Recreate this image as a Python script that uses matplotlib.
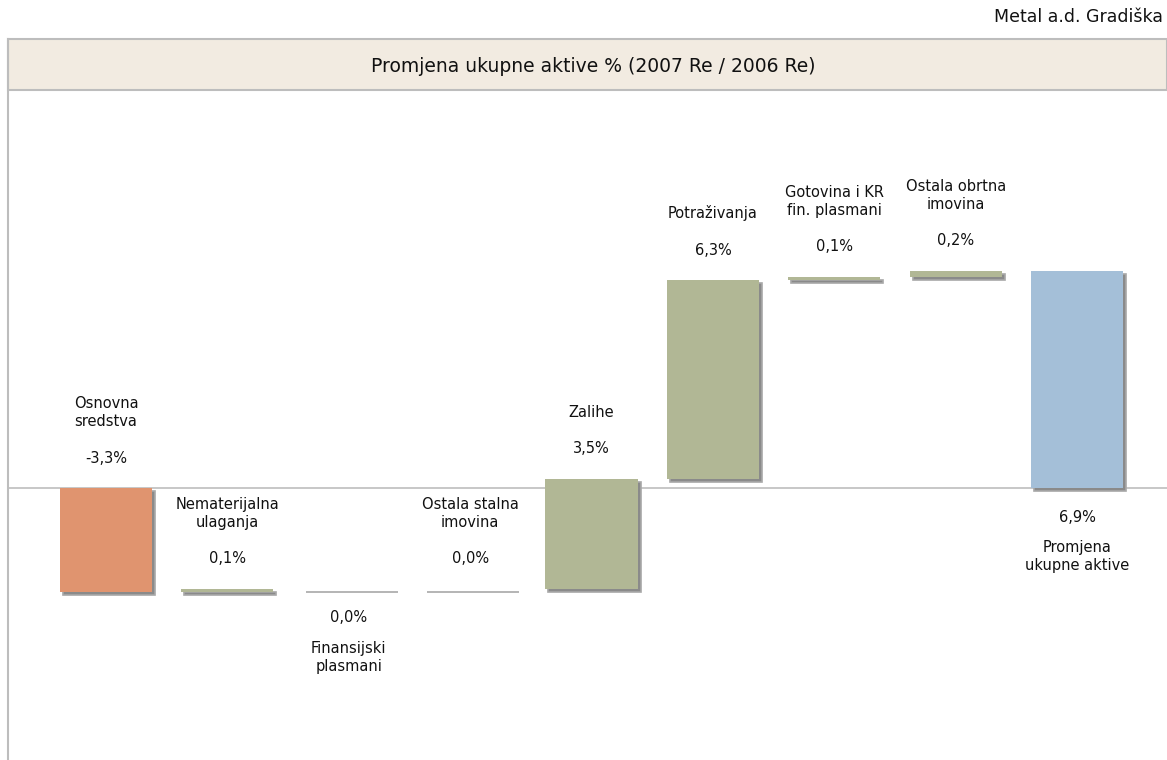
import numpy as np
import matplotlib
matplotlib.use('Agg')
import matplotlib.pyplot as plt
from matplotlib.patches import Rectangle

# data (values in %)
names = ['Osnovna\nsredstva', 'Nematerijalna\nulaganja', 'Finansijski\nplasmani',
         'Ostala stalna\nimovina', 'Zalihe', 'Potraživanja',
         'Gotovina i KR\nfin. plasmani', 'Ostala obrtna\nimovina',
         'Promjena\nukupne aktive']
values = [-3.3, 0.1, 0.0, 0.0, 3.5, 6.3, 0.1, 0.2, 6.9]
kinds = ['neg', 'pos', 'pos', 'pos', 'pos', 'pos', 'pos', 'pos', 'total']
label_side = ['above', 'above', 'below', 'above', 'above', 'above', 'above', 'above', 'below']

colors = {'neg': '#E0946F', 'pos': '#B1B795', 'total': '#A4BFD8'}

# waterfall bottoms
bottoms = []
heights = []
cum = 0.0
for v, k in zip(values, kinds):
    if k == 'total':
        bottoms.append(0.0)
    else:
        bottoms.append(cum)
        cum += v
    heights.append(v)

W, H = 1167, 760
fig = plt.figure(figsize=(W / 100, H / 100), dpi=100)
plt.rcParams['font.family'] = ['DejaVu Sans']
PX = 0.72  # points per pixel at dpi 100

# plot area
ax = fig.add_axes([8 / W, 0, (W - 8) / W, (H - 90) / H])
x = np.arange(len(values))
ax.set_xlim(-0.807, 8.741)
ax.set_ylim(-8.63, 12.63)
ax.axis('off')

# shadows
dx = 3 / 121.4
dy = 3 / 31.5
ax.bar(x + dx, heights, bottom=np.array(bottoms) - dy, width=0.76,
       color='#8A8A8A', edgecolor='#A8A8A8', linewidth=1.2, zorder=2)
ax.bar(x, heights, bottom=bottoms, width=0.76,
       color=[colors[k] for k in kinds], linewidth=0, zorder=3)

# zero line and left border
ax.axhline(0, color='#BDBDBD', linewidth=1.2, zorder=1)
fig.add_artist(plt.Line2D([8 / W, 8 / W], [0, (H - 39) / H], color='#BDBDBD', linewidth=1.5))

fs = 10.5
for i in range(len(values)):
    top = max(bottoms[i], bottoms[i] + heights[i])
    bot = min(bottoms[i], bottoms[i] + heights[i])
    txt = f"{values[i]:.1f}".replace('.', ',') + '%'
    if label_side[i] == 'above':
        ax.annotate(txt, (x[i], top), xytext=(0, 30 * PX), textcoords='offset points',
                    ha='center', va='center', fontsize=fs, color='#111111')
        ax.annotate(names[i], (x[i], top), xytext=(0, 59 * PX), textcoords='offset points',
                    ha='center', va='bottom', fontsize=fs, color='#111111', linespacing=1.25)
    else:
        ax.annotate(txt, (x[i], bot), xytext=(0, -29 * PX), textcoords='offset points',
                    ha='center', va='center', fontsize=fs, color='#111111')
        ax.annotate(names[i], (x[i], bot), xytext=(0, -52 * PX), textcoords='offset points',
                    ha='center', va='top', fontsize=fs, color='#111111', linespacing=1.25)

# header band
fig.add_artist(Rectangle((8 / W, (H - 90) / H), (W - 8) / W, 51 / H,
                         facecolor='#F2EBE1', edgecolor='#BDBDBD', linewidth=1.5))
fig.text(593 / W, (H - 66) / H, 'Promjena ukupne aktive % (2007 Re / 2006 Re)',
         ha='center', va='center', fontsize=13.5, color='#111111')
fig.text(1163 / W, (H - 17) / H, 'Metal a.d. Gradiška',
         ha='right', va='center', fontsize=12.5, color='#111111')

fig.savefig('out.png', dpi=100)
